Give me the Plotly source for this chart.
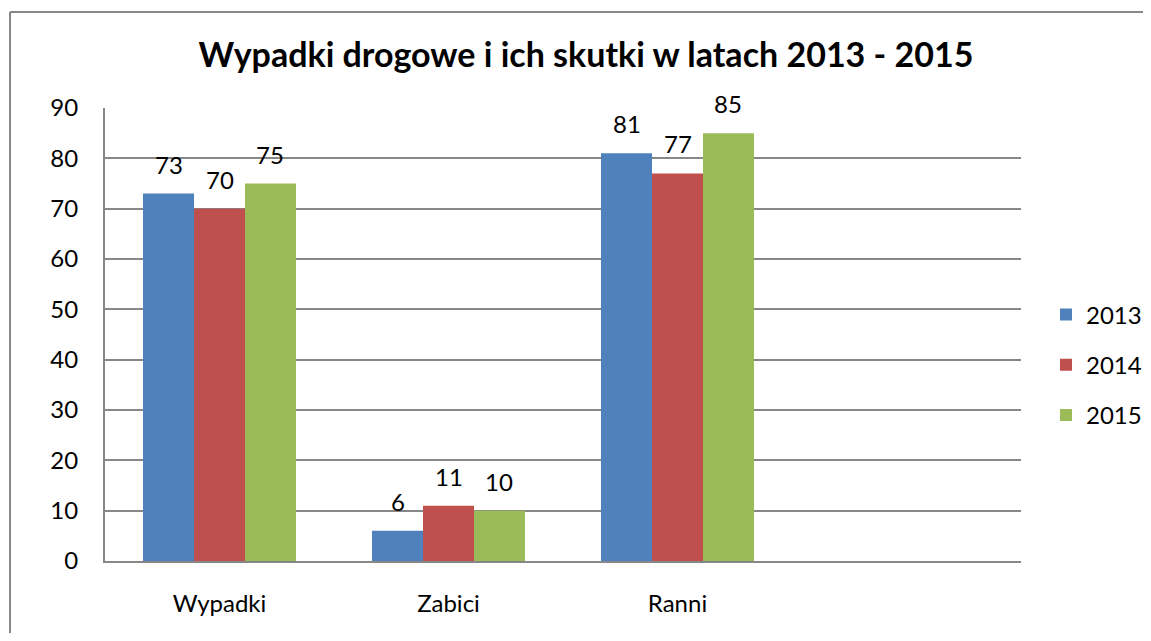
import plotly.graph_objects as go

# --- data -----------------------------------------------------------------
CATEGORIES = ["Wypadki", "Zabici", "Ranni"]
YEARS = ["2013", "2014", "2015"]
VALUES_2013 = [73, 6, 81]
VALUES_2014 = [70, 11, 77]
VALUES_2015 = [75, 10, 85]

Y_TICKS = [0, 10, 20, 30, 40, 50, 60, 70, 80, 90]

TITLE = "Wypadki drogowe i ich skutki w latach 2013 - 2015"

# --- look -----------------------------------------------------------------
COLORS = ["#4F81BD", "#C0504D", "#9BBB59"]
GRID = "#878787"
FONT = "Lato, Carlito, Calibri, sans-serif"
BARGAP = 0.332

# page body has an 8px margin, so the figure is 8px smaller than the window
W, H = 1143, 625
L, R, T, B = 97, 130, 100, 72
PW, PH = W - L - R, H - T - B

series = [VALUES_2013, VALUES_2014, VALUES_2015]

fig = go.Figure()
for i, (year, vals) in enumerate(zip(YEARS, series)):
    fig.add_trace(go.Bar(
        x=CATEGORIES, y=vals, name=year,
        marker=dict(color=COLORS[i], line=dict(width=0)),
        legendgroup=year,
    ))

# value labels, sitting a bit above each bar like the Excel original
slot = (1 - BARGAP) / len(series)
for i, vals in enumerate(series):
    for c, v in enumerate(vals):
        fig.add_annotation(
            x=c + (i - (len(series) - 1) / 2) * slot, y=v,
            text=str(v), showarrow=False,
            yanchor="bottom", yshift=13,
            font=dict(family=FONT, size=24, color="#000000"),
        )

# outer chart-area border: only its left and top edges fall inside the picture
bx0 = (2 - L) / PW
by1 = 1 + (T - 4) / PH
fig.add_shape(type="line", xref="paper", yref="paper",
              x0=bx0, x1=bx0, y0=-(B + 20) / PH, y1=by1,
              line=dict(color=GRID, width=2), layer="below")
fig.add_shape(type="line", xref="paper", yref="paper",
              x0=bx0, x1=1 + (R + 20) / PW, y0=by1, y1=by1,
              line=dict(color=GRID, width=2), layer="below")

fig.update_layout(
    width=W, height=H,
    paper_bgcolor="#ffffff", plot_bgcolor="#ffffff",
    font=dict(family=FONT, size=24, color="#000000"),
    title=dict(
        text="<b>" + TITLE + "</b>",
        font=dict(family=FONT, size=34, color="#000000"),
        x=(578 - L) / PW, xref="paper", xanchor="center",
        y=1 - 47 / H, yref="container", yanchor="middle",
    ),
    margin=dict(l=L, r=R, t=T, b=B, autoexpand=False),
    barmode="group", bargap=BARGAP, bargroupgap=0,
    showlegend=True,
    legend=dict(
        x=1 + (1038 - (W - R)) / PW, xanchor="left",
        y=(H - B - 357) / PH, yanchor="middle",
        traceorder="grouped", tracegroupgap=16,
        font=dict(family=FONT, size=24, color="#000000"),
        bgcolor="rgba(0,0,0,0)",
    ),
    xaxis=dict(
        type="category", range=[-0.5, 3.5],
        showgrid=False, zeroline=False,
        showline=True, linecolor=GRID, linewidth=2,
        ticks="", ticklabelstandoff=20,
        tickfont=dict(family=FONT, size=24, color="#000000"),
    ),
    yaxis=dict(
        range=[0, 90], tickvals=Y_TICKS,
        showgrid=True, gridcolor=GRID, gridwidth=1.5,
        zeroline=False,
        showline=True, linecolor=GRID, linewidth=2,
        ticks="", ticklabelstandoff=20,
        tickfont=dict(family=FONT, size=24, color="#000000"),
    ),
)

fig.write_html("out.html")
